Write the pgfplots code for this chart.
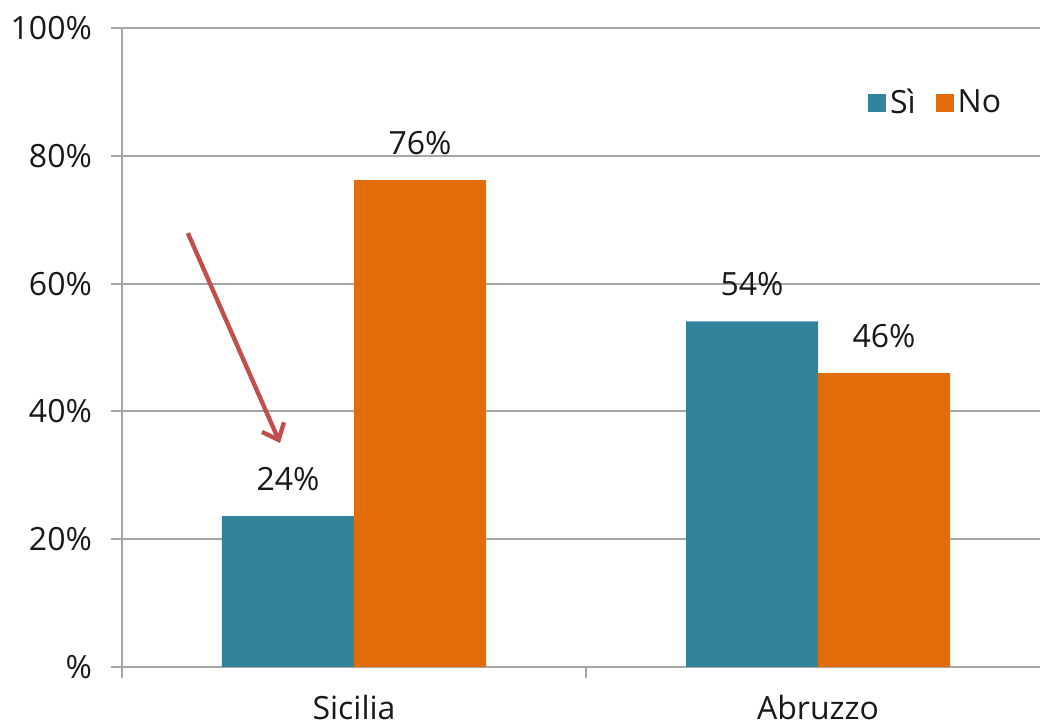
\documentclass[border=0pt]{standalone}
\usepackage{fontspec}
\setmainfont{Open Sans}
\usepackage{pgfplots}
\pgfplotsset{compat=1.18}
\usetikzlibrary{arrows.meta}
\definecolor{cteal}{RGB}{49,132,155}
\definecolor{corng}{RGB}{227,108,10}
\definecolor{gridc}{RGB}{166,166,166}
\definecolor{carr}{RGB}{192,80,77}
\newcommand\fs{\fontsize{16}{19}\selectfont}
\begin{document}
\begin{tikzpicture}[font=\fs, text=black!90]
\begin{axis}[
  name=ax,
  width=464pt, height=319.5pt, scale only axis,
  xmin=-0.5, xmax=1.5, ymin=0, ymax=100,
  axis lines=left,
  axis line style={-, draw=gridc, line width=1pt},
  ybar,
  ytick={0,20,40,60,80,100},
  yticklabels={\%,20\%,40\%,60\%,80\%,100\%},
  yticklabel style={xshift=-6pt},
  ymajorgrids,
  grid style={draw=gridc, line width=1pt},
  tick style={draw=gridc, line width=1pt},
  tick align=outside,
  major tick length=5.5pt,
  xtick={-0.5,0.5,1.5},
  xticklabels={},
  extra x ticks={0,1},
  extra x tick labels={Sicilia,Abruzzo},
  extra x tick style={major tick length=0pt, grid=none,
    xticklabel style={yshift=-14pt, inner sep=0pt}},
  legend style={draw=none, fill=none, at={(0.797,0.883)}, anchor=west,
    legend columns=2, font=\fs,
    /tikz/every even column/.append style={column sep=8pt}},
  legend image code/.code={\fill[#1] (0pt,-4.5pt) rectangle (9pt,4.5pt);},
  point meta=explicit symbolic,
  nodes near coords={\pgfplotspointmeta\%},
  every node near coord/.append style={font=\fs, yshift=9pt},
]
\addplot[fill=cteal, draw=none, bar width=66pt, bar shift=-33pt]
  coordinates {(0,23.6) [24] (1,54.1) [54]};
\addplot[fill=corng, draw=none, bar width=66pt, bar shift=33pt]
  coordinates {(0,76.2) [76] (1,46.0) [46]};
\legend{Sì,No}
\draw[carr, line width=2.2pt, -{Straight Barb[length=7pt,width=12pt]}]
  (axis cs:-0.358,67.9) -- (axis cs:-0.1595,35.05);
\end{axis}
\pgfresetboundingbox
\path[use as bounding box] ([xshift=-61pt,yshift=-30pt]ax.south west)
  rectangle ([xshift=459pt,yshift=14pt]ax.north west);
\end{tikzpicture}
\end{document}
